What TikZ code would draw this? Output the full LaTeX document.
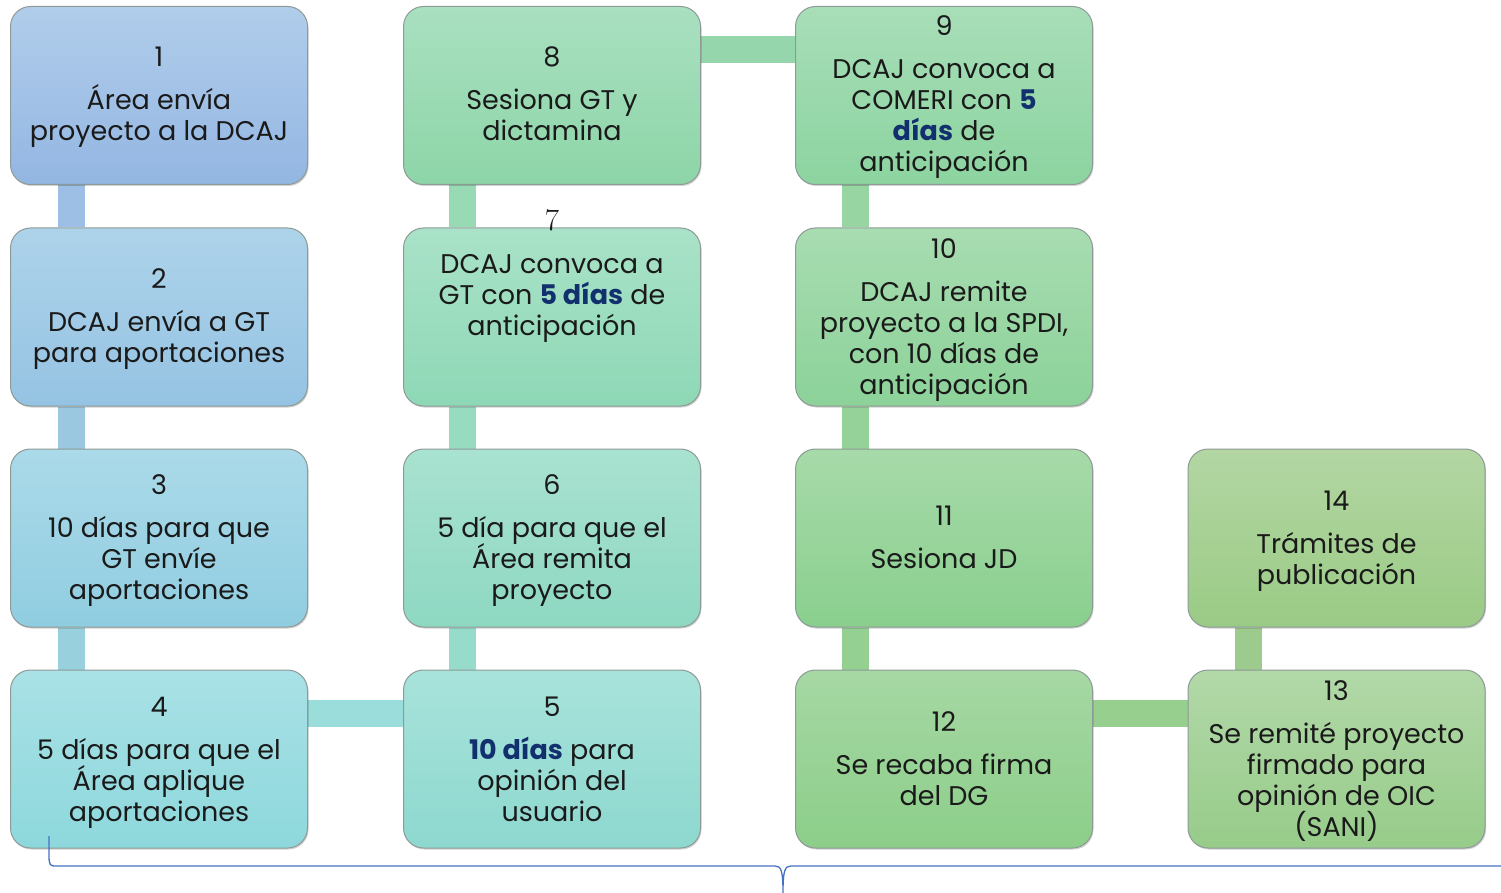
\documentclass[tikz,border=0pt]{standalone}
\usepackage{fontspec}
\setsansfont{Poppins}
\usetikzlibrary{backgrounds,shadows}
\definecolor{navy}{HTML}{12306E}
\definecolor{txtc}{HTML}{1A1A1A}
\definecolor{boxline}{HTML}{8E9A96}
\definecolor{bracec}{HTML}{4472C4}
\definecolor{c1t}{HTML}{B1CDEB}\definecolor{c1b}{HTML}{93B6E2}
\definecolor{c2t}{HTML}{ADD3EA}\definecolor{c2b}{HTML}{95C3E3}
\definecolor{c3t}{HTML}{ABDAE9}\definecolor{c3b}{HTML}{90CDE0}
\definecolor{c4t}{HTML}{A9E1E6}\definecolor{c4b}{HTML}{8DD8DC}
\definecolor{c5t}{HTML}{A8E3DB}\definecolor{c5b}{HTML}{8DD8CF}
\definecolor{c6t}{HTML}{A9E2D0}\definecolor{c6b}{HTML}{8ED8C2}
\definecolor{c7t}{HTML}{A9E2C8}\definecolor{c7b}{HTML}{8ED8B6}
\definecolor{c8t}{HTML}{A9E0C0}\definecolor{c8b}{HTML}{8DD5A8}
\definecolor{c9t}{HTML}{A8DEB8}\definecolor{c9b}{HTML}{8CD4A0}
\definecolor{c10t}{HTML}{A8DCB1}\definecolor{c10b}{HTML}{8CD299}
\definecolor{c11t}{HTML}{A7DAA9}\definecolor{c11b}{HTML}{8ACF8E}
\definecolor{c12t}{HTML}{A6D8A4}\definecolor{c12b}{HTML}{8CCE89}
\definecolor{c13t}{HTML}{B2D8A8}\definecolor{c13b}{HTML}{97CC8A}
\definecolor{c14t}{HTML}{B3D6A3}\definecolor{c14b}{HTML}{9ACB85}
\definecolor{k12}{HTML}{9EBFE5}\definecolor{k23}{HTML}{99C8E0}
\definecolor{k34}{HTML}{98D0DD}\definecolor{k45}{HTML}{9ADDDB}
\definecolor{k56}{HTML}{97DBCB}\definecolor{k67}{HTML}{97DBC0}
\definecolor{k78}{HTML}{97DAB4}\definecolor{k89}{HTML}{96D6AC}
\definecolor{k910}{HTML}{97D5A2}\definecolor{k1011}{HTML}{94D299}
\definecolor{k1112}{HTML}{94D092}\definecolor{k1213}{HTML}{96CF8E}
\definecolor{k1314}{HTML}{9CCB8D}
\newcommand\navybold[1]{\textbf{\color{navy}#1}}
\newcommand\tightlines{\lineskiplimit=-100pt\relax\lineskip=0pt\relax}
\tikzset{
  box/.style={rectangle, rounded corners=20pt, minimum width=297pt, minimum height=178pt,
    inner sep=0pt, draw=boxline, line width=1pt,
    drop shadow={shadow xshift=1pt, shadow yshift=-1.5pt, opacity=.18, fill=black}},
  txt/.style={anchor=base, align=center,
    font=\sffamily\fontsize{27}{31}\selectfont\tightlines,
    text=txtc, inner sep=0pt},
  conn/.style={line width=27pt, draw=#1},
  bracel/.style={draw=bracec, line width=1.3pt},
}
\begin{document}
\begin{tikzpicture}[x=1pt,y=-1pt]
\useasboundingbox (0,0) rectangle (1501,893);
% boxes
\node[box, top color=c1t, bottom color=c1b] (b1) at (159,95.5) {};
\node[box, top color=c2t, bottom color=c2b] (b2) at (159,317) {};
\node[box, top color=c3t, bottom color=c3b] (b3) at (159,538) {};
\node[box, top color=c4t, bottom color=c4b] (b4) at (159,759) {};
\node[box, top color=c5t, bottom color=c5b] (b5) at (552,759) {};
\node[box, top color=c6t, bottom color=c6b] (b6) at (552,538) {};
\node[box, top color=c7t, bottom color=c7b] (b7) at (552,317) {};
\node[box, top color=c8t, bottom color=c8b] (b8) at (552,95.5) {};
\node[box, top color=c9t, bottom color=c9b] (b9) at (944,95.5) {};
\node[box, top color=c10t, bottom color=c10b] (b10) at (944,317) {};
\node[box, top color=c11t, bottom color=c11b] (b11) at (944,538) {};
\node[box, top color=c12t, bottom color=c12b] (b12) at (944,759) {};
\node[box, top color=c13t, bottom color=c13b] (b13) at (1336.5,759) {};
\node[box, top color=c14t, bottom color=c14b] (b14) at (1336.5,538) {};
% connectors
\begin{scope}[on background layer]
\fill[white] (0,0) rectangle (1501,893);
\draw[conn=k12] ([xshift=61.5pt]b1.south west) -- ([xshift=61.5pt]b2.north west);
\draw[conn=k23] ([xshift=61.5pt]b2.south west) -- ([xshift=61.5pt]b3.north west);
\draw[conn=k34] ([xshift=61.5pt]b3.south west) -- ([xshift=61.5pt]b4.north west);
\draw[conn=k45] ([yshift=-43.5pt]b4.north east) -- ([yshift=-43.5pt]b5.north west);
\draw[conn=k56] ([xshift=59.5pt]b5.north west) -- ([xshift=59.5pt]b6.south west);
\draw[conn=k67] ([xshift=59.5pt]b6.north west) -- ([xshift=59.5pt]b7.south west);
\draw[conn=k78] ([xshift=59.5pt]b7.north west) -- ([xshift=59.5pt]b8.south west);
\draw[conn=k89] ([yshift=-44pt]b8.north east) -- ([yshift=-44pt]b9.north west);
\draw[conn=k910] ([xshift=60.5pt]b9.south west) -- ([xshift=60.5pt]b10.north west);
\draw[conn=k1011] ([xshift=60.5pt]b10.south west) -- ([xshift=60.5pt]b11.north west);
\draw[conn=k1112] ([xshift=60.5pt]b11.south west) -- ([xshift=60.5pt]b12.north west);
\draw[conn=k1213] ([yshift=-43.5pt]b12.north east) -- ([yshift=-43.5pt]b13.north west);
\draw[conn=k1314] ([xshift=60.5pt]b13.north west) -- ([xshift=60.5pt]b14.south west);
\end{scope}
% texts (anchored at the baseline of the last line)
\node[txt] (t1) at (159,141) {1\\[12pt]Área envía\\proyecto a la DCAJ};
\node[txt] (t2) at (159,362) {2\\[12pt]DCAJ envía a GT\\para aportaciones};
\node[txt] (t3) at (159,599) {3\\[12pt]10 días para que\\GT envíe\\aportaciones};
\node[txt] (t4) at (159,821) {4\\[12pt]5 días para que el\\Área aplique\\aportaciones};
\node[txt] (t5) at (552,821) {5\\[12pt]\navybold{10 días} para\\opinión del\\usuario};
\node[txt] (t6) at (552,599) {6\\[12pt]5 día para que el\\Área remita\\proyecto};
\node[txt] (t7) at (552,335) {{\rmfamily\fontsize{31}{31}\selectfont 7}\\[12pt]DCAJ convoca a\\GT con \navybold{5 días} de\\anticipación};
\node[txt] (t8) at (552,141) {8\\[12pt]Sesiona GT y\\dictamina};
\node[txt] (t9) at (944,172) {9\\[12pt]DCAJ convoca a\\COMERI con \navybold{5}\\\navybold{días} de\\anticipación};
\node[txt] (t10) at (944,394) {10\\[12pt]DCAJ remite\\proyecto a la SPDI,\\con 10 días de\\anticipación};
\node[txt] (t11) at (944,568) {11\\[12pt]Sesiona JD};
\node[txt] (t12) at (944,805) {12\\[12pt]Se recaba firma\\del DG};
\node[txt] (t13) at (1336.5,836) {13\\[12pt]Se remité proyecto\\firmado para\\opinión de OIC\\(SANI)};
\node[txt] (t14) at (1336.5,584) {14\\[12pt]Trámites de\\publicación};
% brace
\coordinate (brA) at (49,836);
\coordinate (brTip) at (783,893);
\coordinate (brB) at (1501,866);
\draw[bracel] (brA) -- (49,855) .. controls (49,866) and (50,866) .. (57,866)
  -- (775,866) .. controls (781,866) and (783,870) .. (brTip)
  .. controls (783,870) and (785,866) .. (791,866) -- (brB);
\end{tikzpicture}
\end{document}
